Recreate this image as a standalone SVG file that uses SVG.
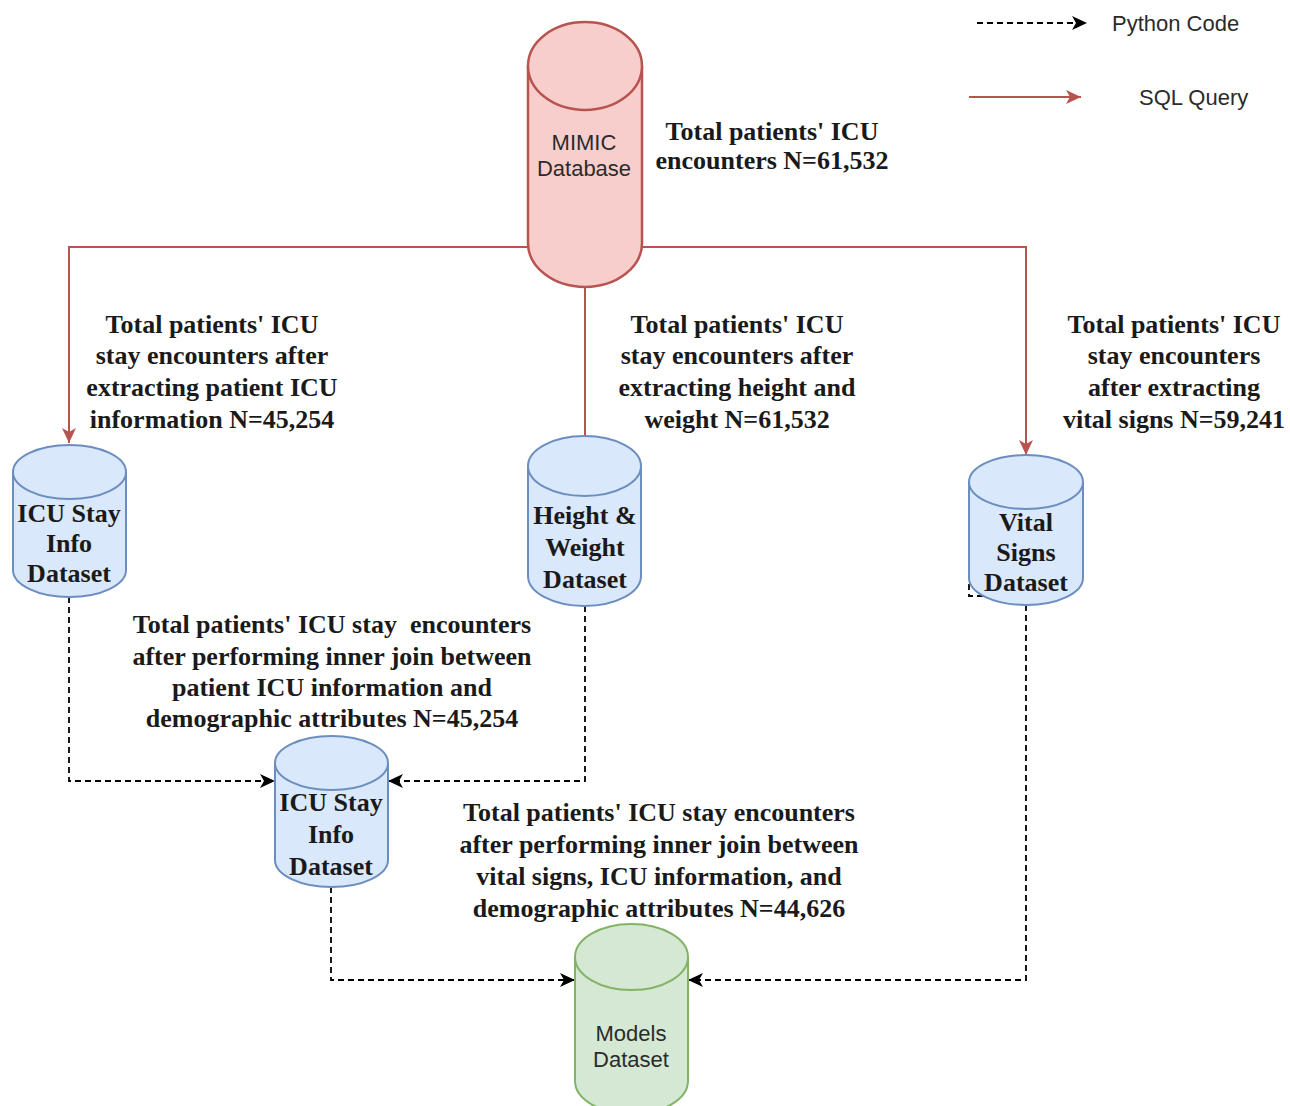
<svg xmlns="http://www.w3.org/2000/svg" width="1290" height="1106" viewBox="0 0 1290 1106">
<defs>
<style>
.lbl{font-family:"Liberation Serif","Times New Roman",serif;font-weight:bold;font-size:26px;fill:#1a1a1a;text-anchor:middle}
.sans{font-family:"Liberation Sans",Arial,sans-serif;font-size:22px;fill:#2b2b2b;text-anchor:middle}
.leg{font-family:"Liberation Sans",Arial,sans-serif;font-size:22px;fill:#2b2b2b}
.red{fill:#f8cecc;stroke:#b85450;stroke-width:2.5}
.blue{fill:#dae8fc;stroke:#6c8ebf;stroke-width:2}
.green{fill:#d5e8d4;stroke:#82b366;stroke-width:2}
.sql{fill:none;stroke:#b85450;stroke-width:2}
.py{fill:none;stroke:#000;stroke-width:1.8;stroke-dasharray:6 4}
</style>
<marker id="ar" markerUnits="userSpaceOnUse" markerWidth="16" markerHeight="14" refX="15" refY="7" orient="auto">
<path d="M0,0 L15,7 L0,14 L4,7 Z" fill="#000"/>
</marker>
<marker id="ar-red" markerUnits="userSpaceOnUse" markerWidth="16" markerHeight="14" refX="15" refY="7" orient="auto">
<path d="M0,0 L15,7 L0,14 L4,7 Z" fill="#b85450"/>
</marker>
</defs>
<rect width="1290" height="1106" fill="#fff"/>

<g id="connectors">
<path class="sql" d="M528,247 H69 V443" marker-end="url(#ar-red)"/>
<path class="sql" d="M642,247 H1026 V455" marker-end="url(#ar-red)"/>
<path class="sql" d="M585,287 V436"/>
<path class="py" d="M69,597 V781 H275" marker-end="url(#ar)"/>
<path class="py" d="M585,606 V781 H388" marker-end="url(#ar)"/>
<path class="py" d="M331,887 V980 H575" marker-end="url(#ar)"/>
<path class="py" d="M1026,605 V980 H688" marker-end="url(#ar)"/>
<path class="py" d="M969,584 V596 H985"/>
</g>

<g id="legend">
<path class="py" d="M977,23 H1087" marker-end="url(#ar)"/>
<text class="leg" x="1112" y="31">Python Code</text>
<path class="sql" d="M969,97 H1081" marker-end="url(#ar-red)"/>
<text class="leg" x="1139" y="105">SQL Query</text>
</g>

<g id="mimic">
<path class="red" d="M528,66 A57,44 0 0 1 642,66 V243 A57,44 0 0 1 528,243 Z"/>
<path class="red" fill="none" d="M528,66 A57,44 0 0 0 642,66"/>
<text class="sans"><tspan x="584" y="150">MIMIC</tspan><tspan x="584" y="176">Database</tspan></text>
</g>

<g id="icu-stay-1">
<path class="blue" d="M13,472 A56.5,27 0 0 1 126,472 V570 A56.5,27 0 0 1 13,570 Z"/>
<path class="blue" fill="none" d="M13,472 A56.5,27 0 0 0 126,472"/>
<text class="lbl"><tspan x="69" y="522">ICU Stay</tspan><tspan x="69" y="552">Info</tspan><tspan x="69" y="582">Dataset</tspan></text>
</g>

<g id="height-weight">
<path class="blue" d="M528,466 A56.5,30 0 0 1 641,466 V576 A56.5,30 0 0 1 528,576 Z"/>
<path class="blue" fill="none" d="M528,466 A56.5,30 0 0 0 641,466"/>
<text class="lbl"><tspan x="585" y="524">Height &amp;</tspan><tspan x="585" y="556">Weight</tspan><tspan x="585" y="588">Dataset</tspan></text>
</g>

<g id="vital-signs">
<path class="blue" d="M969,482 A57,27 0 0 1 1083,482 V578 A57,27 0 0 1 969,578 Z"/>
<path class="blue" fill="none" d="M969,482 A57,27 0 0 0 1083,482"/>
<text class="lbl"><tspan x="1026" y="531">Vital</tspan><tspan x="1026" y="561">Signs</tspan><tspan x="1026" y="591">Dataset</tspan></text>
</g>

<g id="icu-stay-2">
<path class="blue" d="M275,763 A56.5,27 0 0 1 388,763 V860 A56.5,27 0 0 1 275,860 Z"/>
<path class="blue" fill="none" d="M275,763 A56.5,27 0 0 0 388,763"/>
<text class="lbl"><tspan x="331" y="811">ICU Stay</tspan><tspan x="331" y="843">Info</tspan><tspan x="331" y="875">Dataset</tspan></text>
</g>

<g id="models">
<path class="green" d="M575,957 A56.5,33 0 0 1 688,957 V1081 A56.5,33 0 0 1 575,1081 Z"/>
<path class="green" fill="none" d="M575,957 A56.5,33 0 0 0 688,957"/>
<text class="sans"><tspan x="631" y="1041">Models</tspan><tspan x="631" y="1067">Dataset</tspan></text>
</g>

<g id="labels">
<text class="lbl"><tspan x="772" y="140">Total patients' ICU</tspan><tspan x="772" y="169">encounters N=61,532</tspan></text>
<text class="lbl"><tspan x="212" y="333">Total patients' ICU</tspan><tspan x="212" y="364">stay encounters after</tspan><tspan x="212" y="396">extracting patient ICU</tspan><tspan x="212" y="428">information N=45,254</tspan></text>
<text class="lbl"><tspan x="737" y="333">Total patients' ICU</tspan><tspan x="737" y="364">stay encounters after</tspan><tspan x="737" y="396">extracting height and</tspan><tspan x="737" y="428">weight N=61,532</tspan></text>
<text class="lbl"><tspan x="1174" y="333">Total patients' ICU</tspan><tspan x="1174" y="364">stay encounters</tspan><tspan x="1174" y="396">after extracting</tspan><tspan x="1174" y="428">vital signs N=59,241</tspan></text>
<text class="lbl"><tspan x="332" y="633" style="white-space:pre">Total patients' ICU stay  encounters</tspan><tspan x="332" y="665">after performing inner join between</tspan><tspan x="332" y="696">patient ICU information and</tspan><tspan x="332" y="727">demographic attributes N=45,254</tspan></text>
<text class="lbl"><tspan x="659" y="821">Total patients' ICU stay encounters</tspan><tspan x="659" y="853">after performing inner join between</tspan><tspan x="659" y="885">vital signs, ICU information, and</tspan><tspan x="659" y="917">demographic attributes N=44,626</tspan></text>
</g>
</svg>
